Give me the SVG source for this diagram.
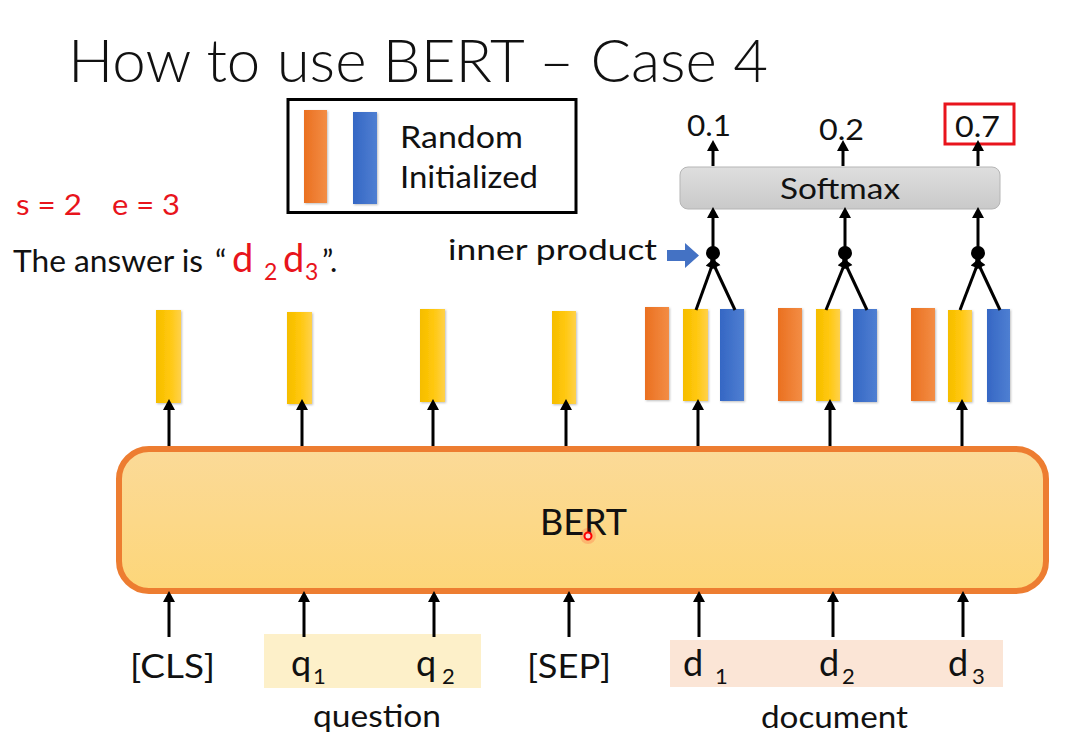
<svg xmlns="http://www.w3.org/2000/svg" width="1074" height="739" viewBox="0 0 1074 739">
<style>
.t{font-family:Lato,"Liberation Sans",sans-serif;fill:#111}
.red{fill:#e8141c}
.ln{stroke:#000;stroke-width:3;fill:none}
.ar{stroke:#000;stroke-width:3;fill:none;marker-end:url(#ah)}
.yb{fill:url(#gy)}
.ob{fill:url(#go)}
.bb{fill:url(#gb)}
</style>
<defs>
<marker id="ah" markerUnits="userSpaceOnUse" markerWidth="12" markerHeight="12" refX="6" refY="6" orient="auto" viewBox="0 0 12 12">
<path d="M0,11 L6,0 L12,11 Z" transform="rotate(90 6 6)" fill="#000"/>
</marker>
<linearGradient id="gy" x1="0" x2="1" y1="0" y2="0"><stop offset="0" stop-color="#f5bd00"/><stop offset="0.5" stop-color="#ffc70a"/><stop offset="1" stop-color="#ffd14a"/></linearGradient>
<linearGradient id="go" x1="0" x2="1" y1="0" y2="0"><stop offset="0" stop-color="#ea7020"/><stop offset="1" stop-color="#f38d45"/></linearGradient>
<linearGradient id="gb" x1="0" x2="1" y1="0" y2="0"><stop offset="0" stop-color="#3567c4"/><stop offset="1" stop-color="#4f7fd2"/></linearGradient>
<linearGradient id="gbert" x1="0" x2="0" y1="0" y2="1"><stop offset="0" stop-color="#fbda98"/><stop offset="1" stop-color="#fdd679"/></linearGradient>
<linearGradient id="gsm" x1="0" x2="0" y1="0" y2="1"><stop offset="0" stop-color="#dedede"/><stop offset="1" stop-color="#c9c9c9"/></linearGradient>
<filter id="sh" x="-30%" y="-10%" width="160%" height="120%"><feDropShadow dx="1" dy="1" stdDeviation="1.2" flood-color="#000" flood-opacity="0.25"/></filter>
</defs>
<rect width="1074" height="739" fill="#fff"/>

<g id="title"><text class="t" x="68" y="82" font-size="60" font-weight="300" textLength="700" lengthAdjust="spacingAndGlyphs">How to use BERT – Case 4</text></g>

<g id="legend">
<rect x="288" y="99.5" width="288" height="113" fill="#fff" stroke="#000" stroke-width="3"/>
<rect class="ob" x="304" y="110" width="23" height="93" filter="url(#sh)"/>
<rect class="bb" x="353" y="112" width="24" height="92" filter="url(#sh)"/>
<text class="t" x="400" y="148" font-size="30" textLength="123" lengthAdjust="spacingAndGlyphs">Random</text>
<text class="t" x="400" y="188" font-size="30" textLength="138" lengthAdjust="spacingAndGlyphs">Initialized</text>
</g>

<g id="answer">
<text class="t red" x="16" y="215" font-size="29" textLength="66" lengthAdjust="spacingAndGlyphs">s = 2</text>
<text class="t red" x="112" y="215" font-size="29" textLength="68" lengthAdjust="spacingAndGlyphs">e = 3</text>
<text class="t" x="13" y="272" font-size="31" textLength="190" lengthAdjust="spacingAndGlyphs">The answer is</text>
<text class="t" x="215" y="272" font-size="31">“</text>
<text class="t red" x="232" y="272" font-size="38">d</text>
<text class="t red" x="264" y="280" font-size="23">2</text>
<text class="t red" x="283" y="272" font-size="38">d</text>
<text class="t red" x="305" y="280" font-size="23">3</text>
<text class="t" x="322" y="272" font-size="31">”.</text>
</g>

<g id="inner-product">
<text class="t" x="448" y="260" font-size="29" textLength="209" lengthAdjust="spacingAndGlyphs">inner product</text>
<path d="M667,250 H685 V243 L699,255.5 L685,268 V261 H667 Z" fill="#4472c4"/>
</g>

<g id="softmax">
<rect x="680" y="167" width="320" height="42" rx="8" fill="url(#gsm)" stroke="#b5b5b5" stroke-width="1"/>
<text class="t" x="840" y="199" font-size="28" text-anchor="middle" textLength="120" lengthAdjust="spacingAndGlyphs">Softmax</text>
</g>

<g id="outputs">
<text class="t" x="687" y="136" font-size="28" textLength="44" lengthAdjust="spacingAndGlyphs">0.1</text>
<text class="t" x="819" y="140" font-size="28" textLength="45" lengthAdjust="spacingAndGlyphs">0.2</text>
<text class="t" x="955" y="137" font-size="28" textLength="45" lengthAdjust="spacingAndGlyphs">0.7</text>
<rect x="945" y="104" width="69" height="40" fill="none" stroke="#e8141c" stroke-width="3"/>
</g>

<g id="bert">
<rect x="119" y="449" width="927" height="142" rx="30" fill="url(#gbert)" stroke="#ed7d31" stroke-width="6"/>
<text class="t" x="540" y="535" font-size="37" textLength="87" lengthAdjust="spacingAndGlyphs">BERT</text>
<circle cx="588" cy="536" r="8" fill="#ff0000" opacity="0.15"/>
<circle cx="588" cy="536" r="3.5" fill="#ffd0d0" stroke="#ff0000" stroke-width="2"/>
</g>

<g id="output-vectors">
<rect class="yb" x="156" y="310" width="25" height="93" filter="url(#sh)"/>
<rect class="yb" x="287" y="312" width="25" height="92" filter="url(#sh)"/>
<rect class="yb" x="420" y="309" width="25" height="93" filter="url(#sh)"/>
<rect class="yb" x="552" y="311" width="24" height="93" filter="url(#sh)"/>
<rect class="ob" x="645" y="307" width="24" height="93" filter="url(#sh)"/>
<rect class="yb" x="683" y="309" width="25" height="92" filter="url(#sh)"/>
<rect class="bb" x="720" y="309" width="24" height="92" filter="url(#sh)"/>
<rect class="ob" x="778" y="308" width="24" height="93" filter="url(#sh)"/>
<rect class="yb" x="816" y="309" width="24" height="92" filter="url(#sh)"/>
<rect class="bb" x="853" y="309" width="24" height="93" filter="url(#sh)"/>
<rect class="ob" x="911" y="308" width="24" height="93" filter="url(#sh)"/>
<rect class="yb" x="948" y="310" width="24" height="92" filter="url(#sh)"/>
<rect class="bb" x="987" y="309" width="23" height="93" filter="url(#sh)"/>
</g>

<g id="inputs">
<rect x="264" y="634" width="217" height="54" fill="#fdf0c9"/>
<rect x="670" y="640" width="333" height="47" fill="#fbe5d6"/>
<text class="t" x="130" y="678" font-size="33" textLength="85" lengthAdjust="spacingAndGlyphs">[CLS]</text>
<text class="t" x="291" y="676" font-size="36">q</text>
<text class="t" x="313" y="684" font-size="22">1</text>
<text class="t" x="416" y="676" font-size="36">q</text>
<text class="t" x="442" y="684" font-size="22">2</text>
<text class="t" x="527" y="678" font-size="33" textLength="84" lengthAdjust="spacingAndGlyphs">[SEP]</text>
<text class="t" x="683" y="676" font-size="36">d</text>
<text class="t" x="715" y="684" font-size="22">1</text>
<text class="t" x="819" y="676" font-size="36">d</text>
<text class="t" x="842" y="684" font-size="22">2</text>
<text class="t" x="948" y="676" font-size="36">d</text>
<text class="t" x="972" y="684" font-size="22">3</text>
<text class="t" x="313" y="727" font-size="30" textLength="128" lengthAdjust="spacingAndGlyphs">question</text>
<text class="t" x="761" y="728" font-size="30" textLength="147" lengthAdjust="spacingAndGlyphs">document</text>
</g>

<g id="connectors">
<line class="ar" x1="169" y1="637" x2="169" y2="597"/>
<line class="ar" x1="304" y1="637" x2="304" y2="597"/>
<line class="ar" x1="434" y1="637" x2="434" y2="597"/>
<line class="ar" x1="569" y1="637" x2="569" y2="597"/>
<line class="ar" x1="699" y1="637" x2="699" y2="597"/>
<line class="ar" x1="833" y1="637" x2="833" y2="597"/>
<line class="ar" x1="963" y1="637" x2="963" y2="597"/>
<line class="ar" x1="169" y1="446" x2="169" y2="405"/>
<line class="ar" x1="302" y1="446" x2="302" y2="405"/>
<line class="ar" x1="433" y1="446" x2="433" y2="405"/>
<line class="ar" x1="566" y1="446" x2="566" y2="405"/>
<line class="ar" x1="698" y1="446" x2="698" y2="405"/>
<line class="ar" x1="830" y1="446" x2="830" y2="405"/>
<line class="ar" x1="962" y1="446" x2="962" y2="405"/>
<line class="ar" x1="696" y1="310" x2="713" y2="263"/>
<line class="ar" x1="735" y1="310" x2="713" y2="263"/>
<line class="ar" x1="826" y1="310" x2="845" y2="263"/>
<line class="ar" x1="867" y1="310" x2="845" y2="263"/>
<line class="ar" x1="960" y1="310" x2="978" y2="263"/>
<line class="ar" x1="1000" y1="310" x2="978" y2="263"/>
<circle cx="713" cy="253" r="7" fill="#000"/>
<circle cx="845" cy="253" r="7" fill="#000"/>
<circle cx="978" cy="253" r="7" fill="#000"/>
<line class="ar" x1="713" y1="250" x2="713" y2="213"/>
<line class="ar" x1="845" y1="250" x2="845" y2="213"/>
<line class="ar" x1="978" y1="250" x2="978" y2="213"/>
<line class="ar" x1="713" y1="166" x2="713" y2="146"/>
<line class="ar" x1="843" y1="166" x2="843" y2="146"/>
<line class="ar" x1="978" y1="166" x2="978" y2="146"/>
</g>
</svg>
